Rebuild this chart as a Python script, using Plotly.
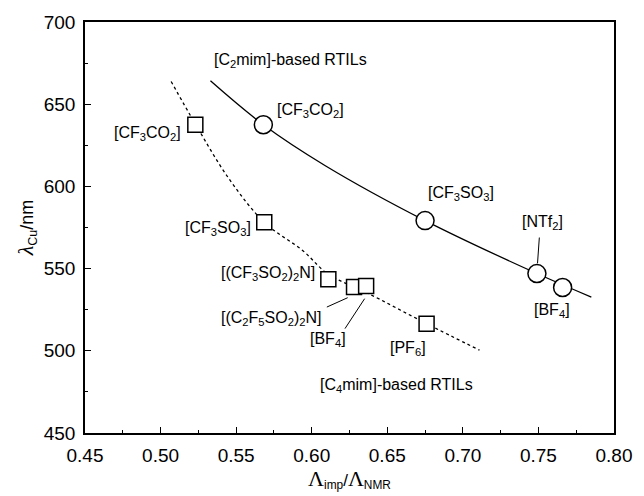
import plotly.graph_objects as go

# C2mim-based RTILs (circles)
c2_x = [0.568, 0.675, 0.749, 0.766]
c2_y = [637.5, 579.2, 547.0, 538.5]
c2_labels = ["[CF<sub>3</sub>CO<sub>2</sub>]", "[CF<sub>3</sub>SO<sub>3</sub>]", "[NTf<sub>2</sub>]", "[BF<sub>4</sub>]"]

# C4mim-based RTILs (squares)
c4_x = [0.523, 0.5686, 0.611, 0.628, 0.636, 0.676]
c4_y = [637.5, 578.2, 543.5, 538.8, 539.4, 516.5]
c4_labels = ["[CF<sub>3</sub>CO<sub>2</sub>]", "[CF<sub>3</sub>SO<sub>3</sub>]", "[(CF<sub>3</sub>SO<sub>2</sub>)<sub>2</sub>N]",
             "[(C<sub>2</sub>F<sub>5</sub>SO<sub>2</sub>)<sub>2</sub>N]", "[BF<sub>4</sub>]", "[PF<sub>6</sub>]"]

# guide curves
c2_curve_x = [0.533, 0.568, 0.609, 0.675, 0.749, 0.785]
c2_curve_y = [664.2, 637.5, 612.6, 579.2, 547.0, 532.7]
c4_curve_x = [0.507, 0.523, 0.545, 0.5686, 0.594, 0.611, 0.635, 0.676, 0.711]
c4_curve_y = [663.8, 638.0, 605.0, 578.2, 561.0, 546.5, 536.0, 516.5, 500.4]

fig = go.Figure()
fig.add_trace(go.Scatter(x=c2_curve_x, y=c2_curve_y, mode="lines", line=dict(color="black", width=1.3, shape="spline"), showlegend=False))
fig.add_trace(go.Scatter(x=c4_curve_x, y=c4_curve_y, mode="lines", line=dict(color="black", width=1.3, dash="3px,3px", shape="spline"), showlegend=False))
fig.add_trace(go.Scatter(x=c2_x, y=c2_y, mode="markers",
                         marker=dict(symbol="circle", size=18, color="white", line=dict(color="black", width=1.5)), showlegend=False))
fig.add_trace(go.Scatter(x=c4_x, y=c4_y, mode="markers",
                         marker=dict(symbol="square", size=15, color="white", line=dict(color="black", width=1.5)), showlegend=False))

font = dict(family="Liberation Sans, Arial, sans-serif", size=16, color="black")
ann = [
    ("[C<sub>2</sub>mim]-based RTILs", 0.5857, 676.3),
    (c2_labels[0], 0.599, 646.0),
    (c2_labels[1], 0.699, 595.4),
    (c2_labels[2], 0.7526, 578.2),
    (c2_labels[3], 0.7588, 524.6),
    (c4_labels[0], 0.4916, 631.9),
    (c4_labels[1], 0.5383, 574.2),
    (c4_labels[2], 0.5712, 546.9),
    (c4_labels[3], 0.5734, 519.6),
    (c4_labels[4], 0.611, 507.0),
    (c4_labels[5], 0.664, 501.4),
    ("[C<sub>4</sub>mim]-based RTILs", 0.656, 479.0),
]
for t, x, y in ann:
    fig.add_annotation(x=x, y=y, text=t, showarrow=False, font=font, xanchor="center", yanchor="middle")

leaders = [((0.7506, 568.9), (0.7494, 553.2)),
           ((0.610, 526.6), (0.6238, 532.3)),
           ((0.622, 513.5), (0.635, 531.7))]
for (x0, y0), (x1, y1) in leaders:
    fig.add_shape(type="line", x0=x0, y0=y0, x1=x1, y1=y1, line=dict(color="black", width=1))

axis_common = dict(showline=True, linecolor="black", linewidth=1.6, mirror=True, ticks="inside",
                   ticklen=6, tickwidth=1.2, tickcolor="black", showgrid=False, zeroline=False,
                   tickfont=dict(family="Liberation Sans, Arial, sans-serif", size=19, color="black"))

L = "<span style='font-family:Liberation Serif;font-size:22px'>Λ</span>"
lam = "<span style='font-family:Liberation Serif;font-size:22px'><i>λ</i></span>"

fig.update_xaxes(range=[0.45, 0.80], dtick=0.05, tickformat=".2f", ticklabelstandoff=4,
                 minor=dict(dtick=0.025, ticks="inside", ticklen=3, tickcolor="black", tickwidth=1),
                 title=dict(text=L + "<sub>imp</sub>/" + L + "<sub>NMR</sub>",
                            font=dict(family="Liberation Sans, Arial, sans-serif", size=17, color="black"), standoff=5),
                 **axis_common)
fig.update_yaxes(range=[450, 700], dtick=50, ticklabelstandoff=4,
                 minor=dict(dtick=25, ticks="inside", ticklen=3, tickcolor="black", tickwidth=1),
                 title=dict(text=lam + "<sub>Cu</sub>/nm",
                            font=dict(family="Liberation Sans, Arial, sans-serif", size=18, color="black"), standoff=5),
                 **axis_common)

fig.update_layout(width=644, height=496, margin=dict(l=85, r=20, t=21, b=63),
                  plot_bgcolor="white", paper_bgcolor="white")
fig.write_html("out.html")
